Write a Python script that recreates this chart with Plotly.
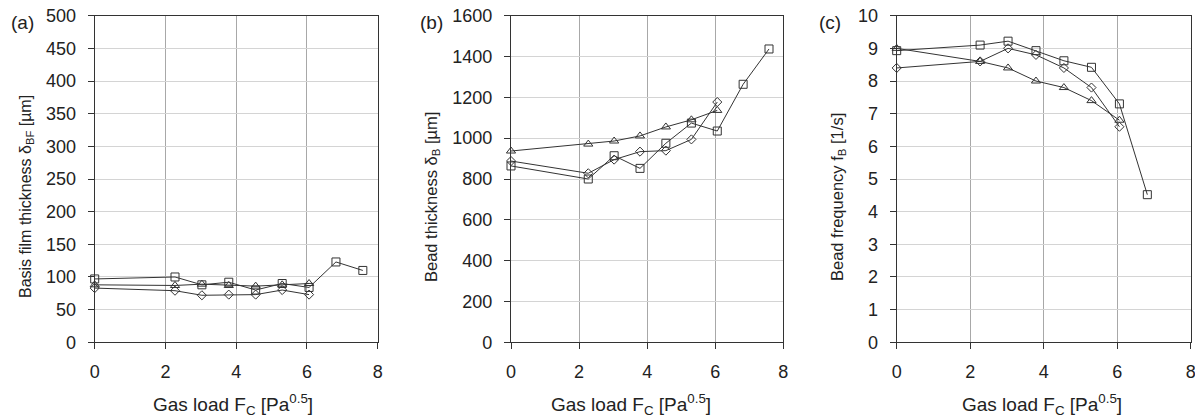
import plotly.graph_objects as go

# ---------------- data ----------------
gas_load = [0, 2.27, 3.03, 3.79, 4.55, 5.30, 6.06, 6.82, 7.58]

# (a) basis film thickness [um]
bf_square = [97, 100, 88, 92, 80, 90, 84, 123, 110]
bf_triangle = [88, 87, 89, 87, 86, 88, 90]
bf_diamond = [83, 79, 72, 73, 73, 80, 73]

# (b) bead thickness [um]
bt_square = [864, 800, 914, 852, 975, 1074, 1035, 1264, 1437]
bt_triangle = [937, 971, 986, 1011, 1055, 1090, 1136]
bt_diamond = [888, 828, 895, 934, 939, 994, 1177]

# (c) bead frequency [1/s]
bfq_square = [8.93, 9.1, 9.22, 8.93, 8.62, 8.42, 7.3, 4.52]
bfq_triangle = [9.0, 8.6, 8.4, 8.0, 7.8, 7.4, 6.8]
bfq_diamond = [8.4, 8.6, 9.0, 8.8, 8.4, 7.8, 6.6]

x_ticks = [0, 2, 4, 6, 8]
panel_labels = ["(a)", "(b)", "(c)"]
y_titles = ["Basis film thickness δ<sub>BF</sub> [µm]",
            "Bead thickness δ<sub>B</sub> [µm]",
            "Bead frequency f<sub>B</sub> [1/s]"]
x_title = "Gas load F<sub>C</sub> [Pa<sup>0.5</sup>]"
y_ranges = [(0, 500, 50), (0, 1600, 200), (0, 10, 1)]

# ---------------- layout geometry (page pixels) ----------------
PAGE_W, PAGE_H = 1203, 419
OFF = 8                      # default body margin of the html page
W, H = PAGE_W - OFF, PAGE_H - OFF
FONT = "Liberation Sans, Arial, sans-serif"
TXT = "#222222"
plot_x = [(94.7, 377.7), (511.0, 783.3), (896.7, 1190.7)]
plot_top, plot_bot = 15.7, 342.3


def px(xp):
    return (xp - OFF) / W


def py(yp):
    return 1 - (yp - OFF) / H


fig = go.Figure()

series = [
    (bf_square, bf_triangle, bf_diamond),
    (bt_square, bt_triangle, bt_diamond),
    (bfq_square, bfq_triangle, bfq_diamond),
]
styles = [("square-open", 8), ("triangle-up-open", 8), ("diamond-open", 7)]

for i, (sq, tr, di) in enumerate(series):
    xa = "x" if i == 0 else f"x{i+1}"
    ya = "y" if i == 0 else f"y{i+1}"
    for vals, (sym, sz) in zip((tr, di, sq), (styles[1], styles[2], styles[0])):
        fig.add_trace(go.Scatter(
            x=gas_load[:len(vals)], y=vals, xaxis=xa, yaxis=ya,
            mode="lines+markers",
            line=dict(color="#333333", width=1),
            marker=dict(symbol=sym, size=sz, color="#333333",
                        line=dict(color="#333333", width=1)),
            cliponaxis=False, showlegend=False,
        ))

layout = dict(
    template="none",
    width=W, height=H,
    margin=dict(l=0, r=0, t=0, b=0, pad=0),
    paper_bgcolor="white", plot_bgcolor="white",
    font=dict(family=FONT, size=18, color=TXT),
    showlegend=False,
)

ydom = [py(plot_bot), py(plot_top)]
for i in range(3):
    sfx = "" if i == 0 else str(i + 1)
    x0, x1 = plot_x[i]
    lo, hi, step = y_ranges[i]
    layout["xaxis" + sfx] = dict(
        domain=[px(x0), px(x1)], range=[0, 8], tickvals=x_ticks,
        anchor="y" + sfx, showgrid=True, gridcolor="#a8a8a8", gridwidth=1,
        zeroline=False, showline=True, linecolor="#333333", linewidth=1.3,
        mirror=True, ticks="outside", ticklen=6, tickcolor="#333333",
        tickfont=dict(size=18, color=TXT, family=FONT), ticklabelstandoff=7,
        ticklabeloverflow="allow", automargin=False, fixedrange=True,
    )
    layout["yaxis" + sfx] = dict(
        domain=ydom, range=[lo, hi], tick0=0, dtick=step,
        anchor="x" + sfx, showgrid=True, gridcolor="#d4d4d4", gridwidth=1,
        zeroline=False, showline=True, linecolor="#333333", linewidth=1.3,
        mirror=True, ticks="outside", ticklen=6, tickcolor="#333333",
        tickfont=dict(size=18, color=TXT, family=FONT), ticklabelstandoff=8,
        ticklabeloverflow="allow", automargin=False, fixedrange=True,
    )

fig.update_layout(**layout)

# annotations: panel labels, axis titles
label_pos = [(22, 23), (431, 23), (830, 23)]
ytitle_pos = [(26, 197), (432, 197), (838, 197)]
ytitle_size = [16, 16.5, 16.5]
xtitle_pos = [(233, 404), (631, 404), (1042, 404)]
for i in range(3):
    lx, ly = label_pos[i]
    fig.add_annotation(x=px(lx), y=py(ly), xref="paper", yref="paper",
                       text=panel_labels[i], showarrow=False,
                       xanchor="center", yanchor="middle",
                       font=dict(size=19, color=TXT, family=FONT))
    tx, ty = ytitle_pos[i]
    fig.add_annotation(x=px(tx), y=py(ty), xref="paper", yref="paper",
                       text=y_titles[i], showarrow=False, textangle=-90,
                       xanchor="center", yanchor="middle",
                       font=dict(size=ytitle_size[i], color=TXT, family=FONT))
    tx, ty = xtitle_pos[i]
    fig.add_annotation(x=px(tx), y=py(ty), xref="paper", yref="paper",
                       text=x_title, showarrow=False,
                       xanchor="center", yanchor="middle",
                       font=dict(size=19, color=TXT, family=FONT))

fig.write_html("out.html")
